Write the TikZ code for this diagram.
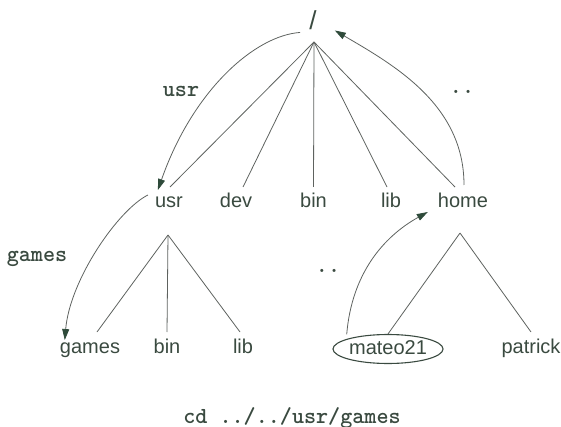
\documentclass[tikz,border=0pt]{standalone}
\usepackage{fontspec}
\setmainfont{Liberation Sans}
\usetikzlibrary{shapes.geometric,arrows.meta,calc}
\definecolor{txt}{HTML}{3A4A40}
\definecolor{linec}{HTML}{5E625F}
\definecolor{arrowc}{HTML}{2E4A3A}
\begin{document}
\begin{tikzpicture}[x=1pt,y=-1pt,
  lbl/.style={font=\fontsize{20}{24}\selectfont, text=txt, inner sep=0pt,
    text height=14pt, text depth=4pt, outer ysep=7pt, anchor=base},
  codelbl/.style={font=\fontsize{23}{26}\selectfont\ttfamily\bfseries, text=txt, inner sep=0pt},
  branch/.style={draw=linec, line width=0.8pt},
  move/.style={draw=linec, line width=0.8pt,
    -{Triangle[length=11pt,width=7pt,color=arrowc,fill=arrowc]}},
  ell/.style={ellipse, draw=txt, line width=1.1pt, minimum width=107pt,
    minimum height=29pt, inner sep=0pt, text height=14pt, text depth=4pt,
    font=\fontsize{20}{24}\selectfont, text=txt}]
\useasboundingbox (0,0) rectangle (561,427);
% root
\node[font=\fontsize{26}{30}\selectfont, text=txt, inner sep=0pt, anchor=base] (root) at (313,30) {/};
\coordinate (rc) at (314,42);
% second row
\node[lbl] (usr) at (169,208) {usr};
\node[lbl] (dev) at (236,208) {dev};
\node[lbl] (bin) at (313.5,208) {bin};
\node[lbl] (lib) at (391,208) {lib};
\node[lbl] (home) at (463,208) {home};
% third row
\node[lbl] (games) at (90,353) {games};
\node[lbl] (bin2) at (167,353) {bin};
\node[lbl] (lib2) at (243,353) {lib};
\node[ell] (mateo) at (388,349) {mateo21};
\node[lbl] (patrick) at (531,353) {patrick};
% apexes
\coordinate (uc) at (168,235);
\coordinate (hc) at (460,233);
% branches
\draw[branch] (rc) -- ($(usr.north)+(1,0)$);
\draw[branch] (rc) -- ($(dev.north)+(7,0)$);
\draw[branch] (rc) -- (bin.north);
\draw[branch] (rc) -- ($(lib.north)+(-4,0)$);
\draw[branch] (rc) -- ($(home.north)+(-8,0)$);
\draw[branch] (uc) -- ($(games.north)+(7,0)$);
\draw[branch] (uc) -- (bin2.north);
\draw[branch] (uc) -- ($(lib2.north)+(-3,0)$);
\draw[branch] (hc) -- (mateo.north);
\draw[branch] (hc) -- (patrick.north);
% moves
\draw[move] ($(root.south west)+(-9,2)$) .. controls +(-45,3) and +(35,-100) .. ($(usr.north west)+(3,3)$);
\draw[move] ($(home.north)+(1,-2)$) .. controls +(0,-80) and +(60,35) .. ($(root.south east)+(18,0)$);
\draw[move] ($(usr.north west)+(-7,8)$) .. controls +(-30,15) and +(5,-60) .. ($(games.north west)+(5,8)$);
\draw[move] ($(mateo.north west)+(-2,-4)$) .. controls +(5,-60) and +(-45,25) .. ($(home.north west)+(-10,25)$);
% labels
\node[codelbl] (lusr) at (181,91) {usr};
\node[codelbl] (ldd1) at (462,92) {..};
\node[codelbl] (lgames) at (37,259) {games};
\node[codelbl] (ldd2) at (328,271) {..};
\node[codelbl, anchor=base] (cmd) at (292,423) {cd ../../usr/games};
\end{tikzpicture}
\end{document}
